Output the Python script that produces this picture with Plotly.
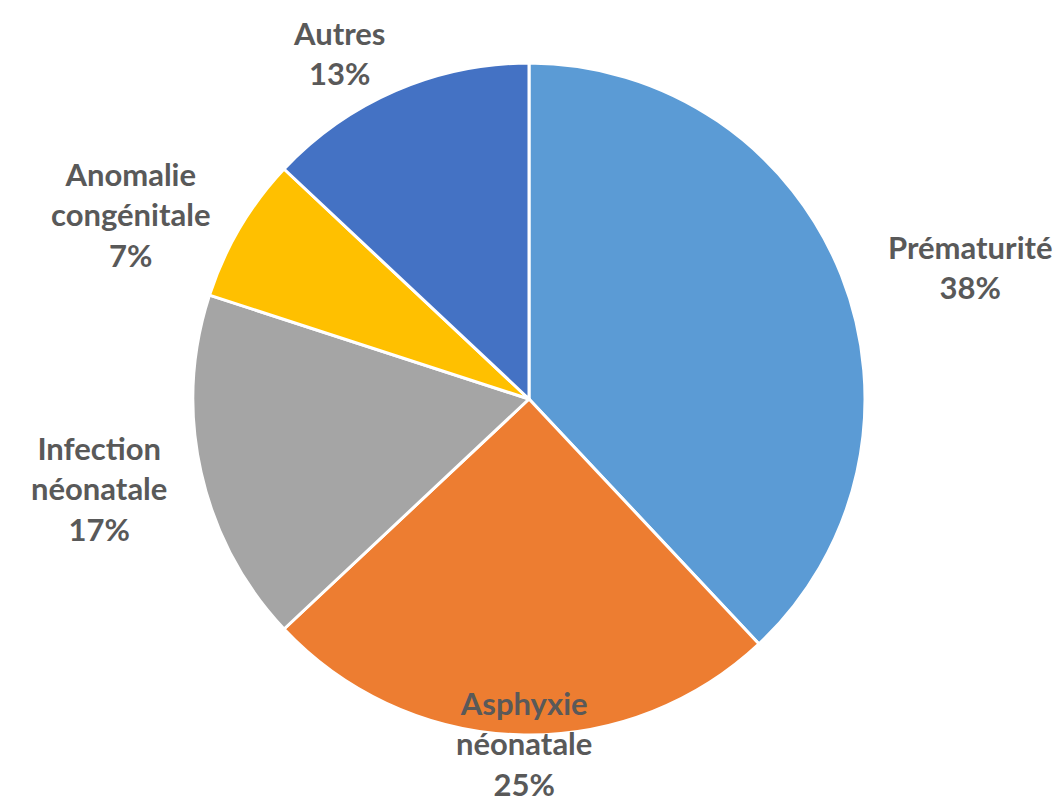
import math
import plotly.graph_objects as go

labels = ["Prématurité", "Asphyxie<br>néonatale", "Infection<br>néonatale", "Anomalie<br>congénitale", "Autres"]
values = [38, 25, 17, 7, 13]
colors = ["#5B9BD5", "#ED7D31", "#A5A5A5", "#FFC000", "#4472C4"]

W, H = 1064, 807
cx, cy, r = 528, 398, 336      # desired pie centre / radius in pixels
DX, DY = -7, -7                # empirical compensation of plotly's pie placement
FONT = "Lato"
FS = 31
LINE_H = 40
TEXT_COLOR = "#595959"

dcx, dcy = cx + DX, cy + DY
fig = go.Figure(go.Pie(
    labels=labels,
    values=values,
    sort=False,
    direction="clockwise",
    rotation=0,
    marker=dict(colors=colors, line=dict(color="white", width=3)),
    textinfo="none",
    showlegend=False,
    hoverinfo="label+percent",
    domain=dict(x=[(dcx - r) / W, (dcx + r) / W], y=[(H - dcy - r) / H, (H - dcy + r) / H]),
))

# Data labels placed outside each slice, along the slice's mid-angle
total = sum(values)
cum = 0
annotations = []
for lab, v in zip(labels, values):
    mid = (cum + v / 2) / total * 2 * math.pi
    cum += v
    sx, sy = math.sin(mid), math.cos(mid)  # sy > 0 means up
    d = r * 1.12
    px = cx + sx * d
    py = cy - sy * d
    xa = "left" if sx > 0.3 else ("right" if sx < -0.3 else "center")
    ya = "bottom" if sy > 0.8 else ("top" if sy < -0.8 else "middle")
    nlines = lab.count("<br>") + 2
    h = nlines * LINE_H
    # keep the label inside the figure
    if ya == "top" and py + h > H - 10:
        ya, py = "bottom", H - 10
    if ya == "bottom" and py - h < 4:
        ya, py = "top", 4
    annotations.append(dict(
        x=px / W, y=1 - py / H, xref="paper", yref="paper",
        xanchor=xa, yanchor=ya, align="center", showarrow=False,
        text=f"<b>{lab}<br>{v}%</b>",
        font=dict(family=FONT, size=FS, color=TEXT_COLOR),
    ))

fig.update_layout(
    width=W, height=H,
    margin=dict(l=0, r=0, t=0, b=0),
    paper_bgcolor="white",
    plot_bgcolor="white",
    annotations=annotations,
)

fig.write_html("out.html")
